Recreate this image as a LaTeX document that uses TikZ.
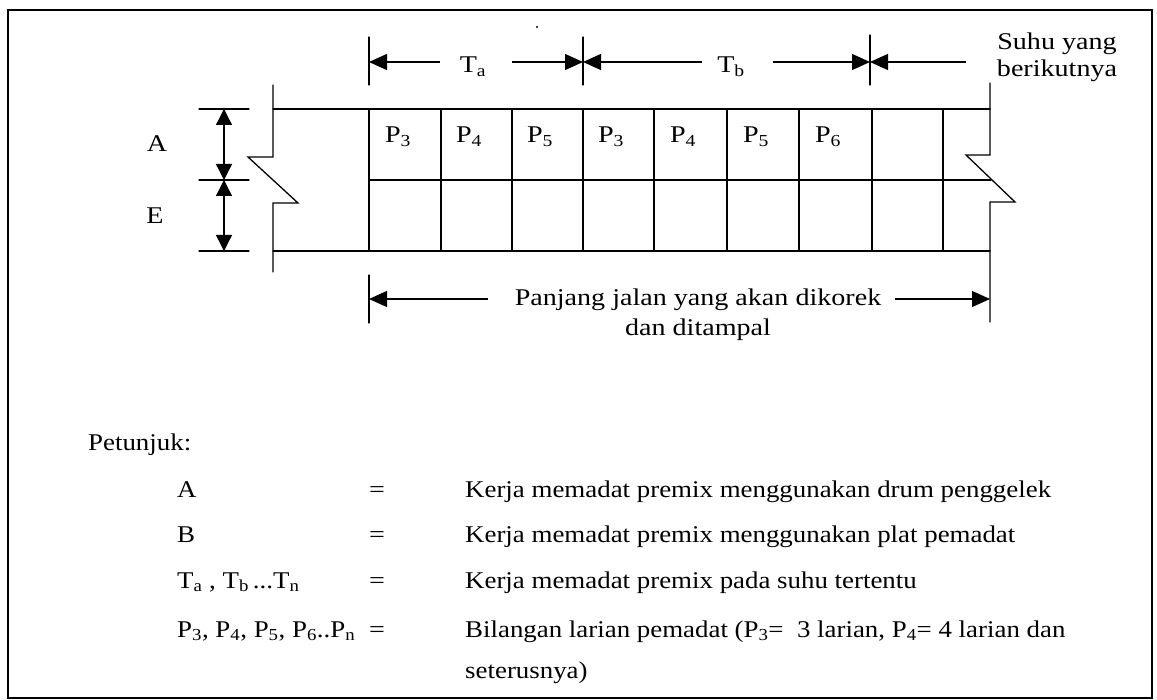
\documentclass[tikz,border=0pt]{standalone}
\usepackage{fontspec}
\setmainfont{Liberation Serif}
\newfontfamily\dfont[FakeStretch=1.17]{Liberation Serif}
\newfontfamily\lfont[FakeStretch=1.12]{Liberation Serif}
\usetikzlibrary{arrows.meta}
\newcommand\sbx[1]{\textsubscript{#1}}
\tikzset{
  ln/.style={line width=1.3pt, line cap=round},
  dim/.style={line width=1.3pt, -{Triangle[length=18pt,width=16pt]}},
  ddim/.style={line width=1.3pt, {Triangle[length=16pt,width=16pt]}-{Triangle[length=16pt,width=16pt]}},
  lbl/.style={font=\dfont\fontsize{24}{27}\selectfont, inner sep=0pt, anchor=base},
  leg/.style={font=\lfont\fontsize{24}{27}\selectfont, inner sep=0pt, anchor=base west},
}
\begin{document}
\begin{tikzpicture}[x=1pt,y=-1pt]
\useasboundingbox (0,0) rectangle (1157,700);
\draw[line width=2pt] (8,10) rectangle (1152,698);
% speck
\fill (537,27) circle (1.1pt);

% road outline
\coordinate (tl) at (273,109); \coordinate (tr) at (990,109);
\coordinate (ml) at (369,180); \coordinate (mr) at (991,180);
\coordinate (bl) at (273,251); \coordinate (br) at (990,251);
\draw[ln] (tl) -- (tr);
\draw[ln] (ml) -- (mr);
\draw[ln] (bl) -- (br);
% left break
\draw[ln] (273,85) -- (273,157) -- (248,157) -- (298,203) -- (273,203) -- (273,272);
% right break
\draw[ln] (990,83) -- (990,155) -- (966,155) -- (1015,202) -- (990,202) -- (990,322);
% grid
\foreach \x in {369,441,512,583,654,727,799,872,943}
  \draw[ln] (\x,109) -- (\x,251);
% cell labels
\foreach \x/\t in {405/3,476/4,547/5,618/3,690/4,763/5,835/6}
  \node[lbl] at (\x-7,143) {P\sbx{\t}};

% top dimension
\draw[ln] (369,37) -- (369,85);
\draw[ln] (583,37) -- (583,85);
\draw[ln] (870,35) -- (870,85);
\node[lbl] (Ta) at (473,73) {T\sbx{a}};
\node[lbl] (Tb) at (731,73) {T\sbx{b}};
\coordinate (ta1) at (369,62); \coordinate (ta2) at (583,62); \coordinate (tb2) at (870,62);
\draw[dim] (440,62) -- (ta1);
\draw[dim] (512,62) -- (ta2);
\draw[dim] (702,62) -- (ta2);
\draw[dim] (773,62) -- (tb2);
\draw[dim] (966,62) -- (tb2);
\node[lbl] (suhu) at (1057,50) {Suhu yang};
\node[lbl] (ber) at (1057,77) {berikutnya};

% left dimension
\draw[ln] (199,109) -- (249,109);
\draw[ln] (199,180) -- (249,180);
\draw[ln] (199,251) -- (249,251);
\draw[ddim] (224,109) -- (224,180);
\draw[ddim] (224,180) -- (224,251);
\node[lbl] (A) at (157,152) {A};
\node[lbl] (E) at (155,224) {E};

% length dimension
\draw[ln] (369,275) -- (369,323);
\node[lbl] (pj) at (698,306) {Panjang jalan yang akan dikorek};
\node[lbl] (dt) at (698,336) {dan ditampal};
\draw[dim] (488,299) -- (369,299);
\draw[dim] (895,299) -- (990,299);

% legend
\node[leg] at (88,450) {Petunjuk:};
\node[leg] at (177,497) {A};
\node[leg] at (177,542) {B};
\node[leg] at (177,588) {T\sbx{a} , T\sbx{b}\,...T\sbx{n}};
\node[leg] at (177,637) {P\sbx{3}, P\sbx{4}, P\sbx{5}, P\sbx{6}..P\sbx{n}};
\foreach \y in {497,542,588,637}
  \node[lbl] at (377,\y) {=};
\node[leg] at (465,497) {Kerja memadat premix menggunakan drum penggelek};
\node[leg] at (465,542) {Kerja memadat premix menggunakan plat pemadat};
\node[leg] at (465,588) {Kerja memadat premix pada suhu tertentu};
\node[leg] at (465,637) {Bilangan larian pemadat (P\sbx{3}=\ \ 3 larian, P\sbx{4}= 4 larian dan};
\node[leg] at (465,678) {seterusnya)};
\end{tikzpicture}
\end{document}
